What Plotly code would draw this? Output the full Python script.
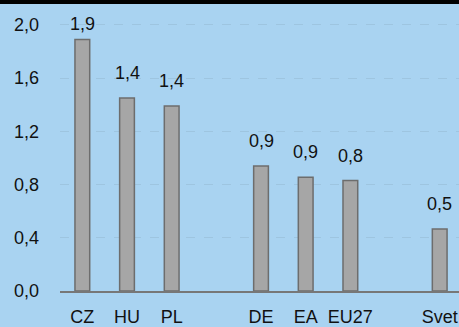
import plotly.graph_objects as go

categories = ["CZ", "HU", "PL", " ", "DE", "EA", "EU27", "  ", "Svet"]
values = [1.89, 1.45, 1.39, None, 0.94, 0.855, 0.83, None, 0.466]
labels = ["1,9", "1,4", "1,4", "", "0,9", "0,9", "0,8", "", "0,5"]
y_ticks = [0.0, 0.4, 0.8, 1.2, 1.6, 2.0]

BG = "#a9d3f1"
FONT = "Liberation Sans, Arial, sans-serif"

fig = go.Figure()
fig.add_trace(go.Bar(
    x=categories,
    y=values,
    width=0.33,
    marker=dict(color="#a6a6a6", line=dict(color="#6d6d6d", width=1.5)),
    hoverinfo="skip",
))

for c, v, t in zip(categories, values, labels):
    if v is None:
        continue
    shift = 4 if v > 1.8 else 13
    fig.add_annotation(x=c, y=v, text=t, showarrow=False, yanchor="bottom",
                       yshift=shift, font=dict(family=FONT, size=18, color="#111111"))

fig.add_shape(type="rect", xref="paper", yref="paper", x0=-0.3, x1=1.05,
              y0=1.0035, y1=1.04, fillcolor="#000000", line=dict(width=0), layer="above")

fig.update_layout(
    width=459, height=327,
    margin=dict(l=60, r=0, t=5, b=36),
    paper_bgcolor=BG, plot_bgcolor=BG,
    separators=", ",
    showlegend=False,
    font=dict(family=FONT, size=18, color="#111111"),
    xaxis=dict(
        type="category",
        categoryorder="array", categoryarray=categories,
        range=[-0.5, 8.432],
        showgrid=False, zeroline=False,
        showline=True, linecolor="#777777", linewidth=2,
        ticks="", tickfont=dict(size=18), ticklabelstandoff=8,
        automargin=False,
    ),
    yaxis=dict(
        range=[0, 2.15],
        tickvals=y_ticks,
        tickformat=".1f",
        showgrid=True, gridcolor="rgba(150,185,210,0.55)", griddash="dash", gridwidth=1,
        zeroline=False,
        showline=False, ticks="", ticklabelstandoff=20,
        tickfont=dict(size=18),
        automargin=False,
    ),
)

fig.write_html("out.html")
